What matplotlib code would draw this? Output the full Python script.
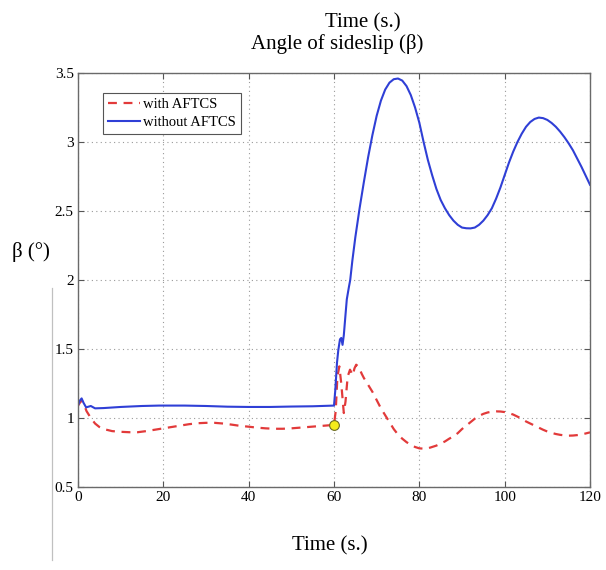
import matplotlib
matplotlib.use("Agg")
import matplotlib.pyplot as plt
from matplotlib.lines import Line2D

plt.rcParams['font.family'] = ['Liberation Serif', 'DejaVu Serif']

# without AFTCS (solid blue)
t_without = [0, 0.4, 0.85, 1.3, 1.9, 3, 4, 6, 10, 15, 19, 25, 30, 35, 40, 45, 50, 55, 60,
             60.3, 60.7, 61.0, 61.4, 61.7, 62.0, 62.3, 62.7, 63.0, 63.5, 63.8, 64.3,
             65, 66, 67, 68, 69, 70, 71, 72, 73, 74, 75, 76, 77, 78, 79, 80,
             81, 82, 83, 84, 85, 86, 87, 88, 89, 90, 91, 92, 93, 94, 95, 96, 97, 98,
             99, 100, 101, 102, 103, 104, 105, 106, 107, 108, 109, 110, 111, 112,
             113, 114, 115, 116, 117, 118, 119, 120]
b_without = [1.09, 1.125, 1.142, 1.11, 1.077, 1.087, 1.07, 1.072, 1.08, 1.087, 1.09, 1.09,
             1.087, 1.082, 1.08, 1.08, 1.083, 1.085, 1.09,
             1.2, 1.4, 1.49, 1.57, 1.58, 1.53, 1.6, 1.75, 1.86, 1.95, 2.0, 2.14,
             2.31, 2.52, 2.71, 2.89, 3.05, 3.19, 3.30, 3.38, 3.43, 3.455, 3.46, 3.445,
             3.405, 3.34, 3.25, 3.14,
             3.0, 2.87, 2.76, 2.66, 2.58, 2.52, 2.47, 2.43, 2.40, 2.38, 2.375, 2.374,
             2.38, 2.40, 2.43, 2.47, 2.52, 2.59,
             2.67, 2.76, 2.85, 2.93, 3.0, 3.06, 3.11, 3.145, 3.167, 3.177, 3.173, 3.16,
             3.138, 3.11, 3.075, 3.035, 2.99, 2.94, 2.88, 2.82, 2.755, 2.69]

# with AFTCS (dashed red)
t_with = [0, 0.85, 1.5, 2, 3, 4, 5, 6, 8, 10, 12, 14, 16, 18, 20, 22, 24, 26, 28, 30,
          32, 34, 36, 38, 40, 42, 44, 46, 48, 50, 52, 54, 56, 58, 60,
          60.4, 60.8, 61.25, 61.7, 62.3, 62.7, 63.2, 63.75, 64.4, 64.8, 65.2, 65.8,
          66.5, 67, 68, 69, 70, 71, 72, 73, 74, 75, 76, 77, 78, 79, 80,
          81, 82, 83, 84, 85, 86, 87, 88, 89, 90, 91, 92, 93, 94, 95, 96, 97, 98,
          99, 100, 101, 102, 103, 104, 105, 106, 107, 108, 109, 110, 111, 112,
          113, 114, 115, 116, 117, 118, 119, 120]
b_with = [1.09, 1.13, 1.09, 1.05, 1.0, 0.96, 0.935, 0.92, 0.905, 0.9, 0.897, 0.897,
          0.905, 0.915, 0.925, 0.935, 0.945, 0.955, 0.962, 0.965,
          0.965, 0.96, 0.952, 0.943, 0.937, 0.93, 0.925, 0.922, 0.922, 0.925, 0.93,
          0.935, 0.94, 0.945, 0.95,
          1.05, 1.3, 1.374, 1.25, 1.036, 1.12, 1.3, 1.35, 1.31, 1.36, 1.386, 1.37,
          1.32, 1.29, 1.24, 1.19, 1.13, 1.07, 1.02, 0.97, 0.92, 0.88, 0.85, 0.825,
          0.805, 0.79, 0.78,
          0.778, 0.78, 0.79, 0.80, 0.815, 0.83, 0.85, 0.867, 0.89, 0.92, 0.945,
          0.97, 0.995, 1.015, 1.03, 1.04, 1.046, 1.048,
          1.047, 1.043, 1.035, 1.025, 1.01, 0.995, 0.975, 0.96, 0.945, 0.93, 0.915,
          0.902, 0.892, 0.884, 0.878, 0.874, 0.872, 0.873, 0.876, 0.881, 0.888, 0.896]

fault_t = 60
fault_b = 0.95

x_ticks = [0, 20, 40, 60, 80, 100, 120]
y_ticks = [0.5, 1, 1.5, 2, 2.5, 3, 3.5]
y_labels = ['0.5', '1', '1.5', '2', '2.5', '3', '3.5']

W, H = 606, 570
fig = plt.figure(figsize=(W / 100, H / 100), dpi=100)
ax = fig.add_axes([78 / W, 1 - 487 / H, 512 / W, 414 / H])

ax.plot(t_with, b_with, color='#e23a3a', lw=1.6, dashes=(4, 3), label='with AFTCS')
ax.plot(t_without, b_without, color='#2f3fd6', lw=1.5, label='without AFTCS')
ax.plot([fault_t], [fault_b], 'o', ms=7, mfc='#f4ec1a', mec='#6b6b20', mew=0.8)

ax.set_xlim(0, 120)
ax.set_ylim(0.5, 3.5)
ax.set_xticks(x_ticks)
ax.set_yticks(y_ticks)
ax.set_yticklabels(y_labels)
ax.grid(True, ls=(0, (1, 3)), color='#9a9a9a', lw=0.8)
ax.tick_params(direction='in', length=4, top=True, right=True, labelsize=11,
               color='#555555', pad=3)
for s in ax.spines.values():
    s.set_color('#6a6a6a')
    s.set_linewidth(1.0)

leg = ax.legend(loc='upper left', bbox_to_anchor=(0.035, 0.97), fontsize=10.5,
                handlelength=2.2, handletextpad=0.2, borderpad=0.35,
                labelspacing=0.3, fancybox=False, framealpha=1)
leg.get_frame().set_edgecolor('#555555')
leg.get_frame().set_linewidth(0.8)

fig.text(363 / W, 1 - 23 / H, 'Time (s.)', ha='center', va='center', fontsize=15)
fig.text(337 / W, 1 - 44 / H, 'Angle of sideslip (β)', ha='center', va='center',
         fontsize=15)
fig.text(330 / W, 1 - 546 / H, 'Time (s.)', ha='center', va='center', fontsize=15)
fig.text(31 / W, 1 - 252 / H, 'β (°)', ha='center', va='center', fontsize=15)

fig.add_artist(Line2D([52 / W, 52 / W], [1 - 288 / H, 1 - 560 / H],
                      color='#c0c0c0', lw=0.9))

fig.savefig('out.png', dpi=100)
